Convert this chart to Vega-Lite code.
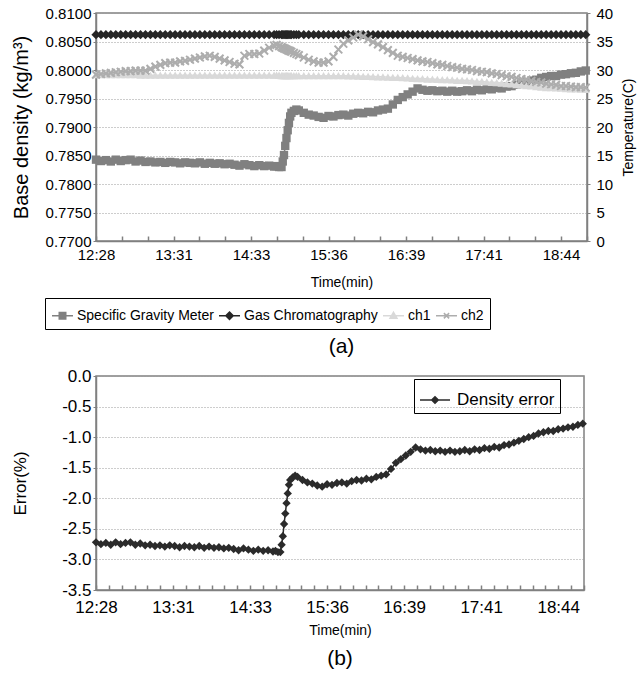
{
"$schema": "https://vega.github.io/schema/vega-lite/v6.json",
"padding": {"left": 10, "top": 5, "right": 0, "bottom": 2},
"spacing": 8,
"data": {"values": [
{"t":0,"err":-2.72,"sgm":0.78427,"gc":0.8062,"ch1":29.2,"ch2":29.2},
{"t":4,"err":-2.75,"sgm":0.78403,"gc":0.8062,"ch1":29.2,"ch2":29.3},
{"t":8,"err":-2.73,"sgm":0.78419,"gc":0.8062,"ch1":29.2,"ch2":29.4},
{"t":12,"err":-2.76,"sgm":0.78395,"gc":0.8062,"ch1":29.2,"ch2":29.5},
{"t":16,"err":-2.72,"sgm":0.78427,"gc":0.8062,"ch1":29.2,"ch2":29.6},
{"t":20,"err":-2.75,"sgm":0.78403,"gc":0.8062,"ch1":29.2,"ch2":29.7},
{"t":24,"err":-2.73,"sgm":0.78419,"gc":0.8062,"ch1":29.2,"ch2":29.8},
{"t":28,"err":-2.72,"sgm":0.78427,"gc":0.8062,"ch1":29.2,"ch2":29.8},
{"t":32,"err":-2.76,"sgm":0.78395,"gc":0.8062,"ch1":29.2,"ch2":29.9},
{"t":36,"err":-2.74,"sgm":0.78411,"gc":0.8062,"ch1":29.1,"ch2":29.9},
{"t":40,"err":-2.77,"sgm":0.78387,"gc":0.8062,"ch1":29.1,"ch2":29.9},
{"t":44,"err":-2.76,"sgm":0.78395,"gc":0.8062,"ch1":29.1,"ch2":30.2},
{"t":48,"err":-2.78,"sgm":0.78379,"gc":0.8062,"ch1":29.1,"ch2":30.6},
{"t":52,"err":-2.77,"sgm":0.78387,"gc":0.8062,"ch1":29.1,"ch2":30.9},
{"t":56,"err":-2.79,"sgm":0.78371,"gc":0.8062,"ch1":29.1,"ch2":31.2},
{"t":60,"err":-2.77,"sgm":0.78387,"gc":0.8062,"ch1":29.1,"ch2":31.3},
{"t":64,"err":-2.78,"sgm":0.78379,"gc":0.8062,"ch1":29.1,"ch2":31.3},
{"t":68,"err":-2.80,"sgm":0.78363,"gc":0.8062,"ch1":29.1,"ch2":31.5},
{"t":72,"err":-2.78,"sgm":0.78379,"gc":0.8062,"ch1":29.1,"ch2":31.6},
{"t":76,"err":-2.79,"sgm":0.78371,"gc":0.8062,"ch1":29.1,"ch2":31.8},
{"t":80,"err":-2.80,"sgm":0.78363,"gc":0.8062,"ch1":29.1,"ch2":32.0},
{"t":84,"err":-2.78,"sgm":0.78379,"gc":0.8062,"ch1":29.1,"ch2":32.2},
{"t":88,"err":-2.81,"sgm":0.78355,"gc":0.8062,"ch1":29.1,"ch2":32.4},
{"t":92,"err":-2.79,"sgm":0.78371,"gc":0.8062,"ch1":29.1,"ch2":32.5},
{"t":96,"err":-2.81,"sgm":0.78355,"gc":0.8062,"ch1":29.1,"ch2":32.3},
{"t":100,"err":-2.80,"sgm":0.78363,"gc":0.8062,"ch1":29.1,"ch2":32.0},
{"t":104,"err":-2.82,"sgm":0.78347,"gc":0.8062,"ch1":29.1,"ch2":31.7},
{"t":108,"err":-2.81,"sgm":0.78355,"gc":0.8062,"ch1":29.1,"ch2":31.4},
{"t":112,"err":-2.83,"sgm":0.78338,"gc":0.8062,"ch1":29.1,"ch2":31.1},
{"t":116,"err":-2.85,"sgm":0.78322,"gc":0.8062,"ch1":29.1,"ch2":31.0},
{"t":120,"err":-2.82,"sgm":0.78347,"gc":0.8062,"ch1":29.1,"ch2":32.5},
{"t":124,"err":-2.84,"sgm":0.78330,"gc":0.8062,"ch1":29.1,"ch2":32.8},
{"t":128,"err":-2.86,"sgm":0.78314,"gc":0.8062,"ch1":29.1,"ch2":32.8},
{"t":132,"err":-2.84,"sgm":0.78330,"gc":0.8062,"ch1":29.1,"ch2":32.9},
{"t":136,"err":-2.86,"sgm":0.78314,"gc":0.8062,"ch1":29.1,"ch2":33.4},
{"t":140,"err":-2.85,"sgm":0.78322,"gc":0.8062,"ch1":29.1,"ch2":33.9},
{"t":144,"err":-2.87,"sgm":0.78306,"gc":0.8062,"ch1":29.1,"ch2":34.3},
{"t":146,"err":-2.86,"sgm":0.78314,"gc":0.8062,"ch1":29.1,"ch2":34.4},
{"t":148,"err":-2.88,"sgm":0.78298,"gc":0.8062,"ch1":29.1,"ch2":34.2},
{"t":150,"err":-2.88,"sgm":0.78298,"gc":0.8062,"ch1":29.0,"ch2":34.0},
{"t":151,"err":-2.76,"sgm":0.78395,"gc":0.8062,"ch1":29.0,"ch2":33.9},
{"t":152,"err":-2.62,"sgm":0.78508,"gc":0.8062,"ch1":29.0,"ch2":33.8},
{"t":153,"err":-2.42,"sgm":0.78669,"gc":0.8062,"ch1":29.0,"ch2":33.7},
{"t":154,"err":-2.25,"sgm":0.78806,"gc":0.8062,"ch1":29.0,"ch2":33.6},
{"t":155,"err":-2.08,"sgm":0.78943,"gc":0.8062,"ch1":29.0,"ch2":33.5},
{"t":156,"err":-1.92,"sgm":0.79072,"gc":0.8062,"ch1":29.0,"ch2":33.4},
{"t":157,"err":-1.78,"sgm":0.79185,"gc":0.8062,"ch1":29.0,"ch2":33.3},
{"t":158,"err":-1.70,"sgm":0.79249,"gc":0.8062,"ch1":29.0,"ch2":33.2},
{"t":160,"err":-1.66,"sgm":0.79282,"gc":0.8062,"ch1":29.0,"ch2":33.0},
{"t":162,"err":-1.63,"sgm":0.79306,"gc":0.8062,"ch1":29.0,"ch2":32.8},
{"t":164,"err":-1.65,"sgm":0.79290,"gc":0.8062,"ch1":29.0,"ch2":32.6},
{"t":168,"err":-1.70,"sgm":0.79249,"gc":0.8062,"ch1":29.0,"ch2":32.2},
{"t":172,"err":-1.74,"sgm":0.79217,"gc":0.8062,"ch1":29.0,"ch2":31.8},
{"t":176,"err":-1.76,"sgm":0.79201,"gc":0.8062,"ch1":29.0,"ch2":31.5},
{"t":180,"err":-1.79,"sgm":0.79177,"gc":0.8062,"ch1":29.0,"ch2":31.3},
{"t":184,"err":-1.81,"sgm":0.79161,"gc":0.8062,"ch1":29.0,"ch2":31.3},
{"t":188,"err":-1.77,"sgm":0.79193,"gc":0.8062,"ch1":29.0,"ch2":31.5},
{"t":192,"err":-1.78,"sgm":0.79185,"gc":0.8062,"ch1":29.0,"ch2":32.3},
{"t":196,"err":-1.75,"sgm":0.79209,"gc":0.8062,"ch1":29.0,"ch2":33.6},
{"t":200,"err":-1.74,"sgm":0.79217,"gc":0.8062,"ch1":29.0,"ch2":34.6},
{"t":204,"err":-1.76,"sgm":0.79201,"gc":0.8062,"ch1":28.98,"ch2":35.2},
{"t":208,"err":-1.72,"sgm":0.79233,"gc":0.8062,"ch1":28.95,"ch2":35.7},
{"t":212,"err":-1.70,"sgm":0.79249,"gc":0.8062,"ch1":28.93,"ch2":36.2},
{"t":216,"err":-1.71,"sgm":0.79241,"gc":0.8062,"ch1":28.9,"ch2":35.9},
{"t":220,"err":-1.68,"sgm":0.79266,"gc":0.8062,"ch1":28.9,"ch2":35.4},
{"t":224,"err":-1.69,"sgm":0.79258,"gc":0.8062,"ch1":28.85,"ch2":34.9},
{"t":228,"err":-1.65,"sgm":0.79290,"gc":0.8062,"ch1":28.8,"ch2":34.5},
{"t":232,"err":-1.63,"sgm":0.79306,"gc":0.8062,"ch1":28.8,"ch2":34.0},
{"t":236,"err":-1.61,"sgm":0.79322,"gc":0.8062,"ch1":28.75,"ch2":33.5},
{"t":240,"err":-1.52,"sgm":0.79395,"gc":0.8062,"ch1":28.7,"ch2":33.0},
{"t":244,"err":-1.42,"sgm":0.79475,"gc":0.8062,"ch1":28.7,"ch2":32.5},
{"t":248,"err":-1.36,"sgm":0.79524,"gc":0.8062,"ch1":28.65,"ch2":32.3},
{"t":252,"err":-1.30,"sgm":0.79572,"gc":0.8062,"ch1":28.6,"ch2":32.1},
{"t":256,"err":-1.24,"sgm":0.79620,"gc":0.8062,"ch1":28.55,"ch2":31.9},
{"t":260,"err":-1.17,"sgm":0.79677,"gc":0.8062,"ch1":28.5,"ch2":31.7},
{"t":264,"err":-1.20,"sgm":0.79653,"gc":0.8062,"ch1":28.5,"ch2":31.5},
{"t":268,"err":-1.22,"sgm":0.79636,"gc":0.8062,"ch1":28.4,"ch2":31.4},
{"t":272,"err":-1.21,"sgm":0.79644,"gc":0.8062,"ch1":28.4,"ch2":31.2},
{"t":276,"err":-1.23,"sgm":0.79628,"gc":0.8062,"ch1":28.35,"ch2":31.0},
{"t":280,"err":-1.22,"sgm":0.79636,"gc":0.8062,"ch1":28.3,"ch2":30.9},
{"t":284,"err":-1.24,"sgm":0.79620,"gc":0.8062,"ch1":28.3,"ch2":30.7},
{"t":288,"err":-1.22,"sgm":0.79636,"gc":0.8062,"ch1":28.25,"ch2":30.5},
{"t":292,"err":-1.24,"sgm":0.79620,"gc":0.8062,"ch1":28.2,"ch2":30.4},
{"t":296,"err":-1.23,"sgm":0.79628,"gc":0.8062,"ch1":28.2,"ch2":30.2},
{"t":300,"err":-1.21,"sgm":0.79644,"gc":0.8062,"ch1":28.15,"ch2":30.1},
{"t":304,"err":-1.23,"sgm":0.79628,"gc":0.8062,"ch1":28.1,"ch2":30.0},
{"t":308,"err":-1.20,"sgm":0.79653,"gc":0.8062,"ch1":28.0,"ch2":29.8},
{"t":312,"err":-1.21,"sgm":0.79644,"gc":0.8062,"ch1":28.0,"ch2":29.7},
{"t":316,"err":-1.18,"sgm":0.79669,"gc":0.8062,"ch1":27.9,"ch2":29.6},
{"t":320,"err":-1.19,"sgm":0.79661,"gc":0.8062,"ch1":27.85,"ch2":29.4},
{"t":324,"err":-1.16,"sgm":0.79685,"gc":0.8062,"ch1":27.8,"ch2":29.3},
{"t":328,"err":-1.17,"sgm":0.79677,"gc":0.8062,"ch1":27.7,"ch2":29.1},
{"t":332,"err":-1.13,"sgm":0.79709,"gc":0.8062,"ch1":27.6,"ch2":28.9},
{"t":336,"err":-1.12,"sgm":0.79717,"gc":0.8062,"ch1":27.55,"ch2":28.8},
{"t":340,"err":-1.09,"sgm":0.79741,"gc":0.8062,"ch1":27.45,"ch2":28.6},
{"t":344,"err":-1.06,"sgm":0.79765,"gc":0.8062,"ch1":27.35,"ch2":28.4},
{"t":348,"err":-1.03,"sgm":0.79790,"gc":0.8062,"ch1":27.25,"ch2":28.3},
{"t":352,"err":-1.00,"sgm":0.79814,"gc":0.8062,"ch1":27.2,"ch2":28.1},
{"t":356,"err":-0.98,"sgm":0.79830,"gc":0.8062,"ch1":27.1,"ch2":27.9},
{"t":360,"err":-0.94,"sgm":0.79862,"gc":0.8062,"ch1":27.0,"ch2":27.8},
{"t":364,"err":-0.92,"sgm":0.79878,"gc":0.8062,"ch1":26.9,"ch2":27.6},
{"t":368,"err":-0.90,"sgm":0.79894,"gc":0.8062,"ch1":26.9,"ch2":27.5},
{"t":372,"err":-0.90,"sgm":0.79894,"gc":0.8062,"ch1":26.85,"ch2":27.4},
{"t":376,"err":-0.87,"sgm":0.79919,"gc":0.8062,"ch1":26.8,"ch2":27.2},
{"t":380,"err":-0.86,"sgm":0.79927,"gc":0.8062,"ch1":26.75,"ch2":27.2},
{"t":384,"err":-0.84,"sgm":0.79943,"gc":0.8062,"ch1":26.7,"ch2":27.1},
{"t":388,"err":-0.83,"sgm":0.79951,"gc":0.8062,"ch1":26.7,"ch2":27.0},
{"t":392,"err":-0.80,"sgm":0.79975,"gc":0.8062,"ch1":26.65,"ch2":27.0},
{"t":396,"err":-0.78,"sgm":0.79991,"gc":0.8062,"ch1":26.6,"ch2":26.9}
]},
"vconcat": [
{
 "width": 491, "height": 228,
 "title": {"text": "(a)", "orient": "bottom", "fontSize": 21, "offset": 6},
 "encoding": {
  "x": {"field": "t", "type": "quantitative", "scale": {"domain": [0, 397], "nice": false, "zero": false},
   "axis": {"title": "Time(min)", "titleFontSize": 14, "labelFontSize": 15, "labelFlush": false, "grid": false,
     "tickSize": -5, "tickWidth": 1.5, "labelPadding": 11, "titlePadding": 13,
     "values": [0,20.889,41.778,62.667,83.556,104.444,125.333,146.222,167.111,188,208.889,229.778,250.667,271.556,292.444,313.333,334.222,355.111,376,396.889],
     "labelExpr": "abs(datum.value/62.6667 - round(datum.value/62.6667)) < 0.01 ? (floor((round(datum.value)+748)/60) + ':' + (((round(datum.value)+748)%60) < 10 ? '0' : '') + ((round(datum.value)+748)%60)) : ''"}}
 },
 "layer": [
  {"layer": [
   {"mark": {"type": "line", "strokeWidth": 1.5, "point": {"shape": "square", "size": 70, "filled": true, "opacity": 1}},
    "encoding": {
     "y": {"field": "sgm", "type": "quantitative", "scale": {"domain": [0.77, 0.81], "nice": false, "zero": false},
       "axis": {"title": "Base density (kg/m³)", "titleFontSize": 20, "labelFontSize": 15, "format": ".4f", "grid": true, "tickSize": 3, "titlePadding": 14, "labelOverlap": false,
         "values": [0.77,0.775,0.78,0.785,0.79,0.795,0.8,0.805,0.81]}},
     "color": {"datum": "Specific Gravity Meter", "type": "nominal",
       "scale": {"domain": ["Specific Gravity Meter","Gas Chromatography","ch1","ch2"], "range": ["#808080","#262626","#d9d9d9","#adadad"]},
       "legend": {"orient": "none", "legendX": -51, "legendY": 285, "direction": "horizontal", "columns": 4, "title": null,
         "strokeColor": "#000000", "padding": 6, "labelFontSize": 14, "symbolSize": 440, "symbolStrokeWidth": 1.5, "columnPadding": 2, "labelOffset": 3,
         "encode": {"symbols": {"update": {
           "shape": {"signal": "datum.value === 'Specific Gravity Meter' ? 'M-1,0H1M-0.31,-0.31H0.31V0.31H-0.31Z' : datum.value === 'Gas Chromatography' ? 'M-1,0H1M0,-0.35L0.35,0L0,0.35L-0.35,0Z' : datum.value === 'ch1' ? 'M-1,0H1M0,-0.33L0.33,0.25H-0.33Z' : 'M-1,0H1M-0.25,-0.25L0.25,0.25M-0.25,0.25L0.25,-0.25'"},
           "fill": {"scale": "color", "field": "value"},
           "stroke": {"scale": "color", "field": "value"},
           "opacity": {"value": 1}}}}}}
    }},
   {"mark": {"type": "line", "strokeWidth": 1.5, "point": {"shape": "diamond", "size": 85, "filled": true, "opacity": 1}},
    "encoding": {
     "y": {"field": "gc", "type": "quantitative", "scale": {"domain": [0.77, 0.81], "nice": false, "zero": false},
       "axis": {"title": "Base density (kg/m³)", "titleFontSize": 20, "labelFontSize": 15, "format": ".4f", "grid": true, "tickSize": 3, "titlePadding": 14, "labelOverlap": false,
         "values": [0.77,0.775,0.78,0.785,0.79,0.795,0.8,0.805,0.81]}},
     "color": {"datum": "Gas Chromatography", "type": "nominal"}
    }}
  ]},
  {"layer": [
   {"mark": {"type": "line", "strokeWidth": 1.5, "point": {"shape": "triangle-up", "size": 70, "filled": true, "opacity": 1}},
    "encoding": {
     "y": {"field": "ch1", "type": "quantitative", "scale": {"domain": [0, 40], "nice": false, "zero": true},
       "axis": {"orient": "right", "title": "Temperature(C)", "titleFontSize": 14, "labelFontSize": 15, "grid": false, "tickSize": 3, "labelPadding": 6, "labelOverlap": false, "titleAngle": 270, "titleBaseline": "top", "titlePadding": 9,
         "values": [0,5,10,15,20,25,30,35,40]}},
     "color": {"datum": "ch1", "type": "nominal"}
    }},
   {"mark": {"type": "line", "strokeWidth": 1.5, "point": {"shape": "M-1,-1L1,1M-1,1L1,-1", "size": 60, "filled": false, "strokeWidth": 2, "opacity": 1}},
    "encoding": {
     "y": {"field": "ch2", "type": "quantitative", "scale": {"domain": [0, 40], "nice": false, "zero": true},
       "axis": {"orient": "right", "title": "Temperature(C)", "titleFontSize": 14, "labelFontSize": 15, "grid": false, "tickSize": 3, "labelPadding": 6, "labelOverlap": false, "titleAngle": 270, "titleBaseline": "top", "titlePadding": 9,
         "values": [0,5,10,15,20,25,30,35,40]}},
     "color": {"datum": "ch2", "type": "nominal"}
    }}
  ]}
 ],
 "resolve": {"scale": {"y": "independent"}}
},
{
 "width": 488, "height": 214,
 "title": {"text": "(b)", "orient": "bottom", "fontSize": 21, "offset": 11},
 "mark": {"type": "line", "strokeWidth": 1.5, "point": {"shape": "diamond", "size": 70, "filled": true, "opacity": 1}},
 "encoding": {
  "x": {"field": "t", "type": "quantitative", "scale": {"domain": [0, 397], "nice": false, "zero": false},
   "axis": {"title": "Time(min)", "titleFontSize": 14, "labelFontSize": 17, "labelFlush": false, "grid": false,
     "tickSize": -5, "tickWidth": 1.5, "labelPadding": 14, "titlePadding": 8,
     "values": [0,10.444,20.889,31.333,41.778,52.222,62.667,73.111,83.556,94,104.444,114.889,125.333,135.778,146.222,156.667,167.111,177.556,188,198.444,208.889,219.333,229.778,240.222,250.667,261.111,271.556,282,292.444,302.889,313.333,323.778,334.222,344.667,355.111,365.556,376,386.444,396.889],
     "labelExpr": "abs(datum.value/62.6667 - round(datum.value/62.6667)) < 0.01 ? (floor((round(datum.value)+748)/60) + ':' + (((round(datum.value)+748)%60) < 10 ? '0' : '') + ((round(datum.value)+748)%60)) : ''"}},
  "y": {"field": "err", "type": "quantitative", "scale": {"domain": [-3.5, 0], "nice": false, "zero": false},
   "axis": {"title": "Error(%)", "titleFontSize": 17, "labelFontSize": 17, "grid": true, "tickSize": 3, "titlePadding": 32, "labelOverlap": false,
     "values": [0,-0.5,-1,-1.5,-2,-2.5,-3,-3.5],
     "labelExpr": "replace(format(datum.value, '.1f'), '\u2212', '-')"}},
  "color": {"datum": "Density error", "type": "nominal",
   "scale": {"domain": ["Density error"], "range": ["#2b2b2b"]},
   "legend": {"orient": "none", "legendX": 318, "legendY": 3, "title": null, "strokeColor": "#000000", "padding": 5, "labelFontSize": 17,
     "symbolSize": 900, "symbolStrokeWidth": 1.5, "labelOffset": 6,
     "encode": {"symbols": {"update": {
       "shape": {"value": "M-1,0H1M0,-0.22L0.22,0L0,0.22L-0.22,0Z"},
       "fill": {"value": "#2b2b2b"}, "stroke": {"value": "#2b2b2b"}, "opacity": {"value": 1}}}}}}
 }
}
],
"resolve": {"scale": {"x": "independent", "y": "independent", "color": "independent"}, "legend": {"color": "independent"}},
"config": {
 "font": "Liberation Sans",
 "view": {"stroke": "#808080", "strokeWidth": 1.5},
 "axis": {"labelColor": "#000000", "titleColor": "#000000", "titleFontWeight": "normal", "domainColor": "#808080", "domainWidth": 1.5,
   "tickColor": "#808080", "gridColor": "#9a9a9a", "gridDash": [1, 2], "labelFont": "Liberation Sans", "titleFont": "Liberation Sans"},
 "legend": {"labelFont": "Liberation Sans", "labelColor": "#000000"},
 "title": {"font": "Liberation Sans", "fontWeight": "normal", "color": "#000000"}
}
}
